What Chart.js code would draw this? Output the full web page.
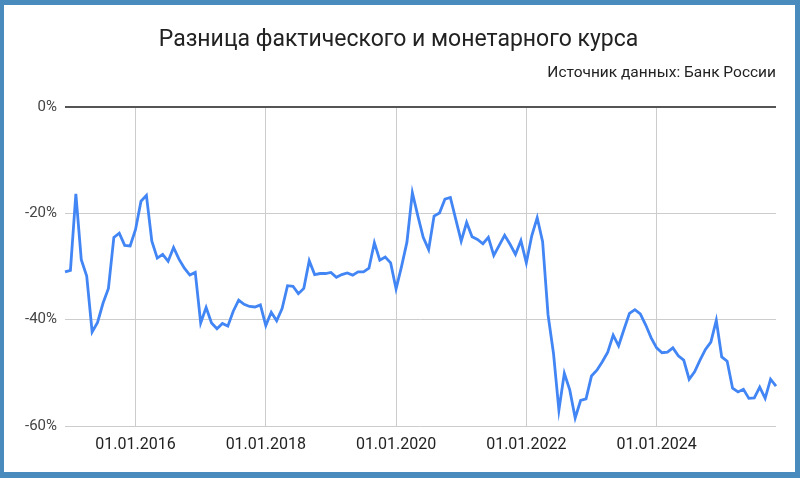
<!DOCTYPE html>
<html lang="ru">
<head>
<meta charset="utf-8">
<title>Разница фактического и монетарного курса</title>
<script src="https://cdn.jsdelivr.net/npm/chart.js@4/dist/chart.umd.min.js"></script>
<style>
    html, body { margin: 0; padding: 0; background: #ffffff; }
    #frame {
        width: 800px;
        height: 478px;
        box-sizing: border-box;
        border-style: solid;
        border-color: #4a8bbd;
        border-width: 5px 5px 6px 4px;
        background: #ffffff;
    }
    #myChart { display: block; }
</style>
</head>
<body>
<div id="frame"><canvas id="myChart" width="791" height="467"></canvas></div>
<script>
// месяцы с 12.2014 по 11.2025
var startYear = 2014;
var startMonth = 12;
var monthCount = 132;

var tickLabels = ["01.01.2016", "01.01.2018", "01.01.2020", "01.01.2022", "01.01.2024"];

var gapValues = [
    -31.0, -30.7, -16.3, -28.7, -31.8, -42.3, -40.5, -36.9, -34.1, -24.5, -23.7, -26.0,
    -26.1, -23.0, -17.7, -16.6, -25.2, -28.4, -27.7, -29.0, -26.4, -28.6, -30.3, -31.6,
    -31.1, -40.6, -37.7, -40.6, -41.7, -40.7, -41.2, -38.4, -36.3, -37.1, -37.5, -37.6,
    -37.2, -41.1, -38.6, -40.2, -37.9, -33.6, -33.7, -35.1, -34.1, -28.9, -31.5, -31.3,
    -31.3, -31.1, -32.0, -31.5, -31.2, -31.6, -31.0, -31.0, -30.3, -25.5, -28.8, -28.2,
    -29.3, -34.2, -30.0, -25.4, -16.1, -20.4, -24.5, -26.8, -20.5, -19.9, -17.3, -17.0,
    -21.1, -25.2, -21.7, -24.4, -24.9, -25.7, -24.5, -27.9, -26.0, -24.1, -25.8, -27.7,
    -25.1, -29.3, -24.2, -20.8, -25.3, -39.1, -46.3, -57.0, -50.1, -53.2, -58.5, -55.2,
    -54.9, -50.6, -49.5, -47.9, -46.1, -42.9, -44.9, -41.8, -38.8, -38.1, -38.9, -41.0,
    -43.4, -45.3, -46.2, -46.1, -45.3, -46.8, -47.6, -51.2, -49.8, -47.6, -45.6, -44.2,
    -40.1, -47.0, -47.8, -52.9, -53.6, -53.1, -54.8, -54.7, -52.7, -54.8, -51.2, -52.5
];

var monthLabels = [];
for (var i = 0; i < monthCount; i++) {
    var m = (startMonth - 1 + i) % 12 + 1;
    var y = startYear + Math.floor((startMonth - 1 + i) / 12);
    monthLabels.push("01." + (m < 10 ? "0" + m : m) + "." + y);
}

document.addEventListener("DOMContentLoaded", function () {
    var ctx = document.getElementById("myChart").getContext("2d");
    // eslint-disable-next-line no-undef,no-new
    new Chart(ctx, {
        type: "line",
        data: {
            labels: monthLabels,
            datasets: [
                {
                    data: gapValues,
                    borderColor: "#4285f4",
                    backgroundColor: "#4285f4",
                    borderWidth: 2.8,
                    pointRadius: 0,
                    tension: 0,
                    fill: false,
                },
            ],
        },
        options: {
            responsive: false,
            animation: false,
            layout: {
                padding: { left: 17, right: 19, top: 0, bottom: 0 },
            },
            plugins: {
                legend: { display: false },
                tooltip: { enabled: false },
                title: {
                    display: true,
                    text: "Разница фактического и монетарного курса",
                    color: "#222222",
                    font: { family: "Roboto", size: 23, weight: "normal" },
                    padding: { top: 21, bottom: 10 },
                },
                subtitle: {
                    display: true,
                    text: "Источник данных: Банк России",
                    align: "end",
                    color: "#222222",
                    font: { family: "Roboto", size: 15.5, weight: "normal" },
                    padding: { top: 0, bottom: 25 },
                },
            },
            scales: {
                x: {
                    offset: false,
                    border: { display: false },
                    grid: {
                        color: "#cccccc",
                        lineWidth: 1,
                        drawTicks: false,
                    },
                    ticks: {
                        autoSkip: false,
                        maxRotation: 0,
                        minRotation: 0,
                        padding: 9,
                        color: "#222222",
                        font: { family: "Roboto", size: 16 },
                        callback: function (value) {
                            var lbl = this.getLabelForValue(value);
                            return tickLabels.indexOf(lbl) >= 0 ? lbl : null;
                        },
                    },
                    afterFit: function (scale) {
                        scale.height = 46;
                    },
                },
                y: {
                    min: -60,
                    max: 0,
                    border: { display: false },
                    grid: {
                        drawTicks: false,
                        color: function (c) {
                            return c.tick && c.tick.value === 0 ? "#555555" : "#cccccc";
                        },
                        lineWidth: function (c) {
                            return c.tick && c.tick.value === 0 ? 2 : 1;
                        },
                    },
                    ticks: {
                        stepSize: 20,
                        padding: 8,
                        color: "#444444",
                        font: { family: "Roboto", size: 15 },
                        callback: function (value) {
                            return value + "%";
                        },
                    },
                    afterFit: function (scale) {
                        scale.width = 44;
                    },
                },
            },
        },
    });
});
</script>
</body>
</html>
